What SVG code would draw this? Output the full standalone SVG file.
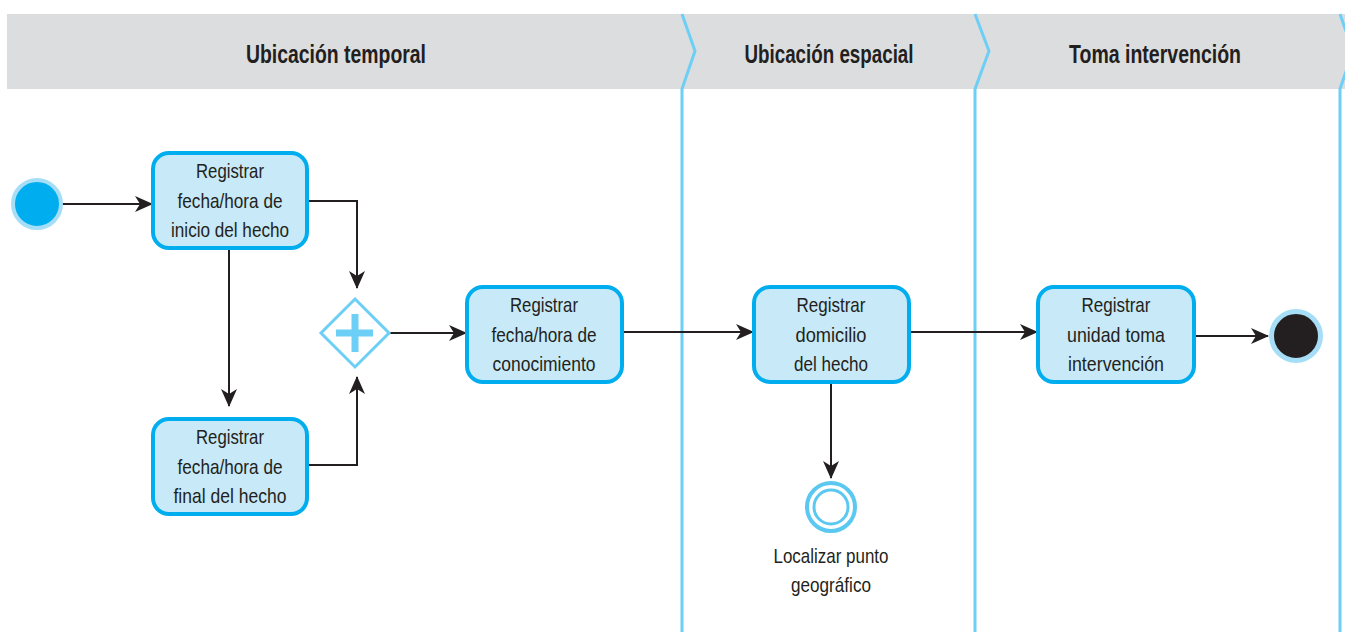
<svg xmlns="http://www.w3.org/2000/svg" width="1345" height="632" viewBox="0 0 1345 632">
<defs>
<style>
.hdr{font-family:"Liberation Sans",Arial,sans-serif;font-weight:bold;font-size:26px;fill:#231f20;text-anchor:middle}
.txt{font-family:"Liberation Sans",Arial,sans-serif;font-size:21px;fill:#231f20;text-anchor:middle}
.task{fill:#c7e9f8;stroke:#00aeef;stroke-width:4}
.lane{fill:none;stroke:#6dcff6;stroke-width:3}
.con{fill:none;stroke:#231f20;stroke-width:2}
</style>
<marker id="arr" markerUnits="userSpaceOnUse" viewBox="0 0 18 16" refX="17" refY="8" markerWidth="18" markerHeight="16" orient="auto">
<path d="M0,0 L18,8 L0,16 L5,8 z" fill="#231f20"/>
</marker>
</defs>
<rect x="0" y="0" width="1345" height="632" fill="#ffffff"/>
<g id="header">
<rect x="7" y="14" width="1338" height="75" fill="#dcddde"/>
<text class="hdr" x="336" y="63" textLength="180" lengthAdjust="spacingAndGlyphs">Ubicación temporal</text>
<text class="hdr" x="829" y="63" textLength="169" lengthAdjust="spacingAndGlyphs">Ubicación espacial</text>
<text class="hdr" x="1155" y="63" textLength="172" lengthAdjust="spacingAndGlyphs">Toma intervención</text>
</g>
<g id="lanes">
<path class="lane" d="M682,14 L695,51 L682,89 L682,632"/>
<path class="lane" d="M975,14 L989,51 L975,89 L975,632"/>
<path class="lane" d="M1340,14 L1353,51 L1340,89 L1340,632"/>
</g>
<g id="connectors">
<path class="con" d="M61,204 L152,204" marker-end="url(#arr)"/>
<path class="con" d="M309,201 L357,201 L357,288" marker-end="url(#arr)"/>
<path class="con" d="M229,249 L229,406" marker-end="url(#arr)"/>
<path class="con" d="M309,465 L357,465 L357,377" marker-end="url(#arr)"/>
<path class="con" d="M390,333 L466,333" marker-end="url(#arr)"/>
<path class="con" d="M623,332 L753,332" marker-end="url(#arr)"/>
<path class="con" d="M910,332 L1037,332" marker-end="url(#arr)"/>
<path class="con" d="M1195,336 L1268,336" marker-end="url(#arr)"/>
<path class="con" d="M831,383 L831,478" marker-end="url(#arr)"/>
</g>
<g id="start">
<circle cx="37" cy="204" r="24" fill="#00aeef" stroke="#a6def7" stroke-width="4"/>
</g>
<g id="task1">
<rect class="task" x="153" y="153" width="154" height="95" rx="16"/>
<text class="txt" x="230" y="178" textLength="68" lengthAdjust="spacingAndGlyphs">Registrar</text>
<text class="txt" x="230" y="207.5" textLength="105" lengthAdjust="spacingAndGlyphs">fecha/hora de</text>
<text class="txt" x="230" y="237" textLength="118" lengthAdjust="spacingAndGlyphs">inicio del hecho</text>
</g>
<g id="task2">
<rect class="task" x="153" y="419" width="154" height="95" rx="16"/>
<text class="txt" x="230" y="444" textLength="68" lengthAdjust="spacingAndGlyphs">Registrar</text>
<text class="txt" x="230" y="473.5" textLength="105" lengthAdjust="spacingAndGlyphs">fecha/hora de</text>
<text class="txt" x="230" y="503" textLength="113" lengthAdjust="spacingAndGlyphs">final del hecho</text>
</g>
<g id="gateway">
<path d="M355,299 L389,333 L355,367 L321,333 z" fill="#ffffff" stroke="#6dcff6" stroke-width="3"/>
<path d="M336,333 L373,333 M355,314 L355,352" stroke="#6dcff6" stroke-width="7" fill="none"/>
</g>
<g id="task3">
<rect class="task" x="467" y="287" width="155" height="95" rx="16"/>
<text class="txt" x="544" y="312" textLength="68" lengthAdjust="spacingAndGlyphs">Registrar</text>
<text class="txt" x="544" y="341.5" textLength="105" lengthAdjust="spacingAndGlyphs">fecha/hora de</text>
<text class="txt" x="544" y="371" textLength="103" lengthAdjust="spacingAndGlyphs">conocimiento</text>
</g>
<g id="task4">
<rect class="task" x="754" y="287" width="155" height="95" rx="16"/>
<text class="txt" x="831" y="312" textLength="69" lengthAdjust="spacingAndGlyphs">Registrar</text>
<text class="txt" x="831" y="341.5" textLength="71" lengthAdjust="spacingAndGlyphs">domicilio</text>
<text class="txt" x="831" y="371" textLength="74" lengthAdjust="spacingAndGlyphs">del hecho</text>
</g>
<g id="task5">
<rect class="task" x="1038" y="287" width="156" height="95" rx="16"/>
<text class="txt" x="1116" y="312" textLength="69" lengthAdjust="spacingAndGlyphs">Registrar</text>
<text class="txt" x="1116" y="341.5" textLength="98" lengthAdjust="spacingAndGlyphs">unidad toma</text>
<text class="txt" x="1116" y="371" textLength="96" lengthAdjust="spacingAndGlyphs">intervención</text>
</g>
<g id="end">
<circle cx="1296" cy="336" r="24.5" fill="#231f20" stroke="#a6def7" stroke-width="5"/>
</g>
<g id="intermediate">
<circle cx="831" cy="507" r="24" fill="#ffffff" stroke="#5bc8f2" stroke-width="4"/>
<circle cx="831" cy="507" r="17" fill="none" stroke="#5bc8f2" stroke-width="3"/>
<text class="txt" x="831" y="563" textLength="115" lengthAdjust="spacingAndGlyphs">Localizar punto</text>
<text class="txt" x="831" y="592" textLength="80" lengthAdjust="spacingAndGlyphs">geográfico</text>
</g>
</svg>
